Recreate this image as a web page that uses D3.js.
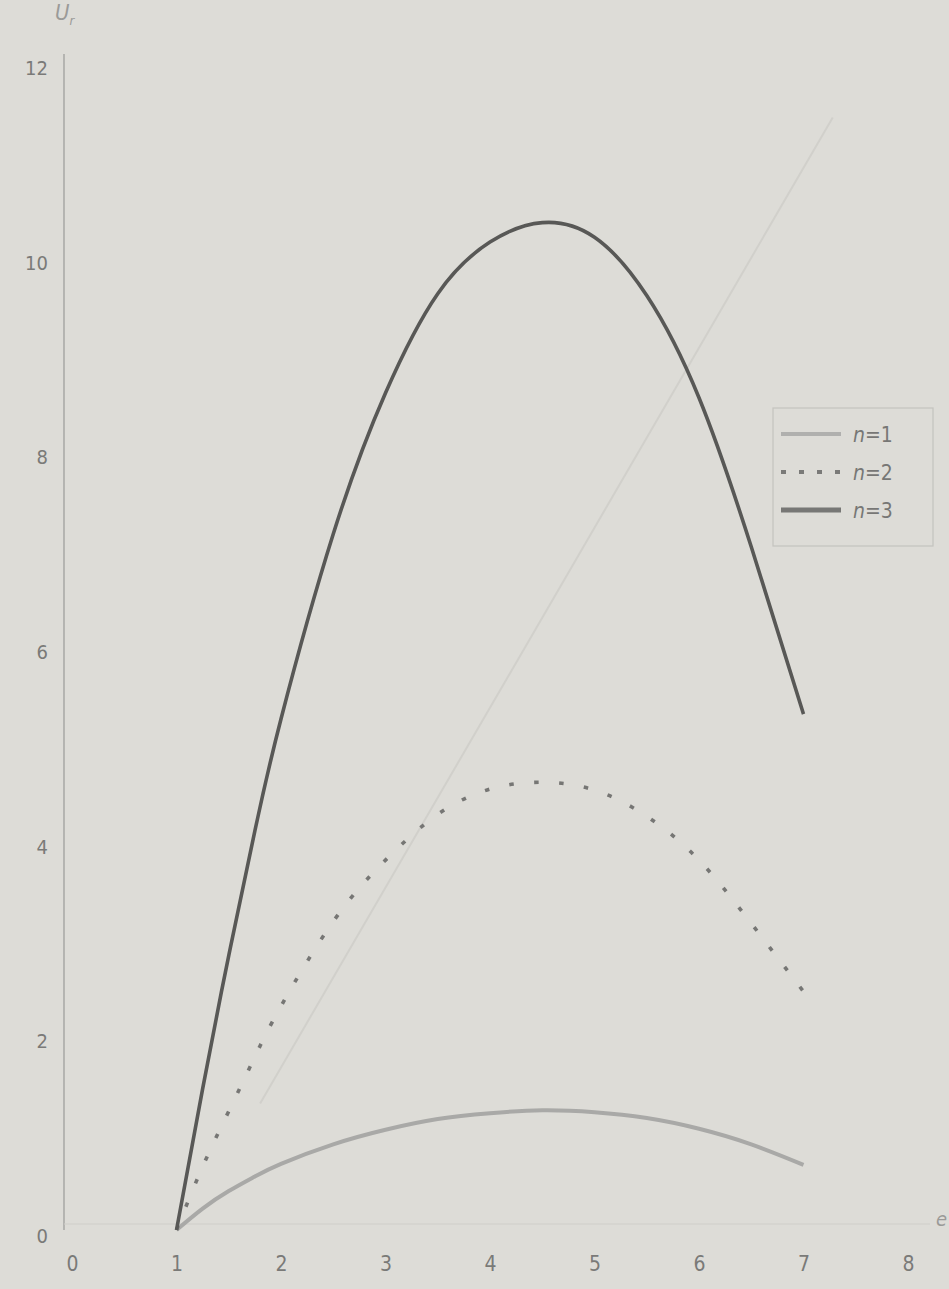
<!DOCTYPE html>
<html>
<head>
<meta charset="utf-8">
<script src="https://cdn.jsdelivr.net/npm/d3@7/dist/d3.min.js"></script>
<style>
  html, body { margin: 0; padding: 0; background: #dcdbd6; }
  svg { display: block; }
  text { font-family: "Liberation Sans Narrow", "DejaVu Sans Condensed", "Liberation Sans", sans-serif; }
</style>
</head>
<body>
<svg id="chart" width="949" height="1289"></svg>
<script>
// ---- data ----
const eValues = [1, 1.25, 1.5, 1.75, 2, 2.5, 3, 3.5, 4, 4.5, 5, 5.5, 6, 6.5, 7];
const uN1 = [0, 0.22, 0.40, 0.55, 0.68, 0.88, 1.03, 1.14, 1.20, 1.23, 1.21, 1.15, 1.04, 0.88, 0.67];
const uN2 = [0, 0.65, 1.22, 1.78, 2.30, 3.17, 3.80, 4.27, 4.53, 4.60, 4.52, 4.25, 3.80, 3.15, 2.45];
const uN3 = [0, 1.45, 2.82, 4.10, 5.25, 7.15, 8.60, 9.62, 10.15, 10.35, 10.20, 9.60, 8.55, 7.02, 5.30];
// faint show-through line visible on the photographed page
const ghostE = [1.8, 7.28];
const ghostU = [1.3, 11.43];
const xTicks = [0, 1, 2, 3, 4, 5, 6, 7, 8];
const yTicks = [0, 2, 4, 6, 8, 10, 12];
const seriesNames = ["n=1", "n=2", "n=3"];

// ---- layout ----
const svg = d3.select("#chart");
const W = 949, H = 1289;
svg.append("rect").attr("width", W).attr("height", H).attr("fill", "#dddcd7");

const x = d3.scaleLinear().domain([0, 8]).range([72, 908]);
const y = d3.scaleLinear().domain([0, 12]).range([1230, 62]);

// axes lines
svg.append("line")
  .attr("x1", x(0) - 8).attr("x2", x(0) - 8)
  .attr("y1", y(0)).attr("y2", y(12) - 8)
  .attr("stroke", "#9a9a98").attr("stroke-width", 1.2);
svg.append("line")
  .attr("x1", x(0) - 8).attr("x2", 930)
  .attr("y1", y(0) - 6).attr("y2", y(0) - 6)
  .attr("stroke", "#cfcec9").attr("stroke-width", 1.2);

// tick labels via d3 axes (domain/ticks hidden)
const xAxis = d3.axisBottom(x).tickValues(xTicks).tickSize(0).tickPadding(0).tickFormat(d3.format("d"));
const gx = svg.append("g").attr("transform", `translate(0, ${y(0) + 26})`).call(xAxis);
gx.select(".domain").remove();
gx.selectAll("text").attr("fill", "#7a7a78").attr("font-size", 21);

const yAxis = d3.axisLeft(y).tickValues(yTicks).tickSize(0).tickPadding(0).tickFormat(d3.format("d"));
const gy = svg.append("g").attr("transform", `translate(48, 6)`).call(yAxis);
gy.select(".domain").remove();
gy.selectAll("text").attr("fill", "#7a7a78").attr("font-size", 20);

// axis titles
const ylab = svg.append("text").attr("x", 55).attr("y", 20).attr("fill", "#9a9a98")
  .attr("font-size", 22).attr("font-style", "italic");
ylab.append("tspan").text("U");
ylab.append("tspan").attr("font-size", 13).attr("dy", 5).text("r");
svg.append("text").attr("x", 936).attr("y", 1226).attr("fill", "#9a9a98")
  .attr("font-size", 20).attr("font-style", "italic").text("e");

// ghost line
svg.append("path")
  .datum(ghostE.map((e, i) => [e, ghostU[i]]))
  .attr("d", d3.line().x(d => x(d[0])).y(d => y(d[1])))
  .attr("fill", "none").attr("stroke", "#d1d0cb").attr("stroke-width", 2);

// series
const series = [
  { name: seriesNames[0], vals: uN1, color: "#a9a9a7", width: 4, dash: null },
  { name: seriesNames[1], vals: uN2, color: "#767674", width: 3.6, dash: "4.5,20.5" },
  { name: seriesNames[2], vals: uN3, color: "#585856", width: 3.6, dash: null }
];
series.forEach(s => {
  const p = svg.append("path")
    .datum(eValues.map((e, i) => [e, s.vals[i]]))
    .attr("d", d3.line().x(d => x(d[0])).y(d => y(d[1])).curve(d3.curveNatural))
    .attr("fill", "none").attr("stroke", s.color).attr("stroke-width", s.width)
    .attr("stroke-linecap", "butt");
  if (s.dash) p.attr("stroke-dasharray", s.dash);
});

// legend
const lg = svg.append("g").attr("transform", "translate(773, 408)");
lg.append("rect").attr("width", 160).attr("height", 138)
  .attr("fill", "none").attr("stroke", "#c4c3be").attr("stroke-width", 1.2);
const legendStyles = [
  { color: "#b0b0ae", width: 4, dash: null },
  { color: "#7a7a78", width: 4, dash: "5,13" },
  { color: "#777775", width: 5, dash: null }
];
seriesNames.forEach((nm, i) => {
  const yy = 26 + i * 38;
  const l = lg.append("line").attr("x1", 8).attr("x2", 68).attr("y1", yy).attr("y2", yy)
    .attr("stroke", legendStyles[i].color).attr("stroke-width", legendStyles[i].width);
  if (legendStyles[i].dash) l.attr("stroke-dasharray", legendStyles[i].dash);
  const t = lg.append("text").attr("x", 80).attr("y", yy + 8).attr("fill", "#777775").attr("font-size", 21);
  t.append("tspan").attr("font-style", "italic").text("n");
  t.append("tspan").text("=" + nm.split("=")[1]);
});
</script>
</body>
</html>
